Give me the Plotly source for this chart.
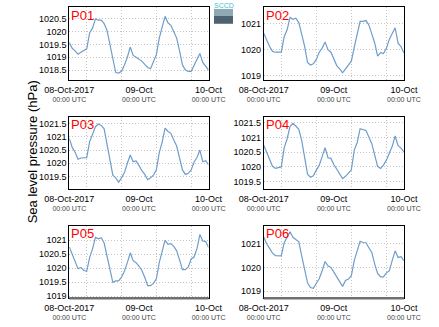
import plotly.graph_objects as go
import pandas as pd

# ---------------- data ----------------
times = pd.date_range("2017-10-08 00:00", "2017-10-10 00:00", freq="h")

stations = ["P01", "P02", "P03", "P04", "P05", "P06"]

p01 = [1019.58, 1019.35, 1019.25, 1019.12, 1019.20, 1019.25, 1019.33, 1019.95, 1020.14, 1020.50,
       1020.45, 1020.45, 1020.32, 1020.05, 1019.50, 1018.90, 1018.40, 1018.38, 1018.45, 1018.70,
       1019.00, 1019.40, 1019.07, 1019.00, 1018.94, 1018.85, 1018.72, 1018.60, 1018.55, 1018.85,
       1019.10, 1019.75, 1020.15, 1020.60, 1020.35, 1020.25, 1020.00, 1019.75, 1019.25, 1018.70,
       1018.50, 1018.45, 1018.45, 1018.70, 1018.95, 1019.15, 1018.80, 1018.65, 1018.50]
p02 = [1020.64, 1020.35, 1020.12, 1019.93, 1019.90, 1019.90, 1019.90, 1020.50, 1020.77, 1021.25,
       1021.18, 1021.22, 1021.05, 1020.60, 1020.13, 1019.50, 1019.40, 1019.45, 1019.62, 1019.90,
       1020.06, 1020.30, 1020.00, 1019.90, 1019.62, 1019.38, 1019.25, 1019.10, 1019.25, 1019.40,
       1019.55, 1020.10, 1020.55, 1021.10, 1021.10, 1021.13, 1020.96, 1020.64, 1020.26, 1019.75,
       1019.88, 1019.85, 1020.05, 1020.40, 1020.60, 1020.85, 1020.25, 1020.12, 1019.87]
p03 = [1020.94, 1020.60, 1020.42, 1020.15, 1020.20, 1020.21, 1020.21, 1020.81, 1021.06, 1021.38,
       1021.48, 1021.43, 1021.30, 1020.75, 1020.15, 1019.55, 1019.45, 1019.29, 1019.45, 1019.65,
       1020.00, 1020.31, 1020.06, 1020.09, 1019.92, 1019.72, 1019.58, 1019.38, 1019.45, 1019.55,
       1019.75, 1020.40, 1020.80, 1021.33, 1021.20, 1021.13, 1020.88, 1020.65, 1020.20, 1019.75,
       1019.58, 1019.62, 1019.75, 1020.05, 1020.22, 1020.50, 1020.06, 1020.10, 1019.94]
p04 = [1020.74, 1020.48, 1020.28, 1020.02, 1019.95, 1019.98, 1020.00, 1020.65, 1020.95, 1021.37,
       1021.48, 1021.39, 1021.28, 1020.90, 1020.30, 1019.75, 1019.65, 1019.70, 1019.89, 1020.05,
       1020.35, 1020.65, 1020.31, 1020.29, 1020.08, 1019.93, 1019.75, 1019.60, 1019.68, 1019.78,
       1019.90, 1020.57, 1020.83, 1021.30, 1021.28, 1021.24, 1021.02, 1020.79, 1020.40, 1020.02,
       1019.95, 1020.06, 1020.23, 1020.45, 1020.70, 1021.05, 1020.72, 1020.64, 1020.51]
p05 = [1020.76, 1020.50, 1020.20, 1019.98, 1020.03, 1019.92, 1019.89, 1020.38, 1020.68, 1021.10,
       1021.05, 1021.09, 1020.90, 1020.45, 1019.90, 1019.50, 1019.55, 1019.55, 1019.68, 1019.90,
       1020.20, 1020.55, 1020.27, 1020.20, 1020.08, 1019.92, 1019.68, 1019.38, 1019.38, 1019.46,
       1019.62, 1020.20, 1020.60, 1021.00, 1020.85, 1020.88, 1020.78, 1020.62, 1020.30, 1019.95,
       1019.95, 1020.05, 1020.33, 1020.40, 1020.70, 1021.20, 1020.97, 1020.95, 1020.74]
p06 = [1021.28, 1021.00, 1020.80, 1020.60, 1020.50, 1020.50, 1020.49, 1021.04, 1021.25, 1021.50,
       1021.27, 1021.18, 1021.08, 1020.49, 1019.90, 1019.35, 1019.15, 1019.12, 1019.33, 1019.52,
       1019.86, 1020.25, 1020.07, 1020.00, 1019.80, 1019.60, 1019.37, 1019.20, 1019.45, 1019.51,
       1019.65, 1020.30, 1020.70, 1021.10, 1021.05, 1021.04, 1020.83, 1020.63, 1020.14, 1019.75,
       1019.60, 1019.60, 1019.77, 1019.85, 1020.30, 1020.70, 1020.42, 1020.45, 1020.28]
series = [p01, p02, p03, p04, p05, p06]

y_ranges = [[1018.1, 1020.95], [1018.81, 1021.64], [1019.02, 1021.75],
            [1019.24, 1021.70], [1018.93, 1021.51], [1018.70, 1021.75]]
y_ticks = [
    [1018.5, 1019, 1019.5, 1020, 1020.5],
    [1019, 1020, 1021],
    [1019.5, 1020, 1020.5, 1021, 1021.5],
    [1019.5, 1020, 1020.5, 1021, 1021.5],
    [1019, 1019.5, 1020, 1020.5, 1021],
    [1019, 1020, 1021],
]

x_tickvals = ["2017-10-08 00:00", "2017-10-09 00:00", "2017-10-10 00:00"]
x_ticklabels = ["08-Oct-2017", "09-Oct", "10-Oct"]
x_sublabel = "00:00 UTC"
grid_times = ["2017-10-08 06:00", "2017-10-08 18:00", "2017-10-09 06:00", "2017-10-09 18:00"]

y_title = "Sea level pressure (hPa)"
logo_text = "SCCD"

# ---------------- layout geometry (pixels) ----------------
W, H = 439, 327
cols = [(49, 203), (264, 419)]
rows = [(7.5, 81), (118, 191), (228, 301)]

FONT = "Liberation Sans, Arial, Helvetica, sans-serif"
LINE_COLOR = "#6f9dca"
GRID = "#c4c4c4"

fig = go.Figure()
ticktext = [f"<span style='font-size:9px;color:#000'>{t}</span><br>{x_sublabel}"
            for t in x_ticklabels]

for i, (name, vals) in enumerate(zip(stations, series)):
    r, c = divmod(i, 2)
    n = "" if i == 0 else str(i + 1)
    fig.add_trace(go.Scatter(x=times, y=vals, mode="lines",
                             line=dict(color=LINE_COLOR, width=1.2),
                             xaxis="x" + n, yaxis="y" + n, showlegend=False))
    x0, x1 = cols[c]
    t0, t1 = rows[r]
    fig.layout["xaxis" + n] = dict(
        domain=[x0 / W, x1 / W], anchor="y" + n,
        range=[times[0], times[-1]], type="date",
        tickmode="array", tickvals=x_tickvals, ticktext=ticktext,
        tickfont=dict(family=FONT, size=7, color="#444"),
        ticklabelstandoff=3,
        showline=True, linecolor="#000", linewidth=1, mirror=True,
        showgrid=False, zeroline=False, ticks="",
        minor=dict(tickvals=grid_times, showgrid=True, gridcolor=GRID,
                   griddash="1px,2px", gridwidth=1, ticks=""),
    )
    fig.layout["yaxis" + n] = dict(
        domain=[1 - t1 / H, 1 - t0 / H], anchor="x" + n,
        range=y_ranges[i], tickmode="array", tickvals=y_ticks[i],
        ticktext=[f"{v:g}" for v in y_ticks[i]],
        tickfont=dict(family=FONT, size=9, color="#000"),
        showline=True, linecolor="#000", linewidth=1, mirror=True,
        showgrid=True, gridcolor=GRID, griddash="1px,2px", gridwidth=1,
        zeroline=False, ticks="",
    )
    fig.add_annotation(text=name, xref="x" + n + " domain", yref="y" + n + " domain",
                       x=0.0, y=1.02, xanchor="left", yanchor="top", showarrow=False,
                       font=dict(family=FONT, size=13, color="#ff0000"))
    if r == 2:
        fig.add_shape(type="line", xref="x" + n + " domain", yref="y" + n + " domain",
                      x0=0, x1=1, y0=0, y1=0, line=dict(color="#707070", width=2.5))

# y title
fig.add_annotation(text=y_title, xref="paper", yref="paper", x=8 / W, y=1 - 153.5 / H,
                   textangle=-90, showarrow=False, xanchor="center", yanchor="middle",
                   font=dict(family=FONT, size=13, color="#000"))

# logo
fig.add_shape(type="rect", xref="paper", yref="paper", x0=209 / W, x1=230 / W,
              y0=1 - 16 / H, y1=1 - 9 / H, line=dict(width=0), fillcolor="#8fa9b5")
fig.add_shape(type="rect", xref="paper", yref="paper", x0=209 / W, x1=230 / W,
              y0=1 - 24 / H, y1=1 - 16 / H, line=dict(width=0), fillcolor="#4d6372")
fig.add_annotation(text=logo_text, xref="paper", yref="paper", x=219.5 / W, y=1 - 5.5 / H,
                   showarrow=False, xanchor="center", yanchor="middle",
                   font=dict(family=FONT, size=7, color="#3cc0d8"))

fig.update_layout(width=W, height=H, margin=dict(l=0, r=0, t=0, b=0),
                  paper_bgcolor="white", plot_bgcolor="white", showlegend=False)

fig.write_html("out.html")
